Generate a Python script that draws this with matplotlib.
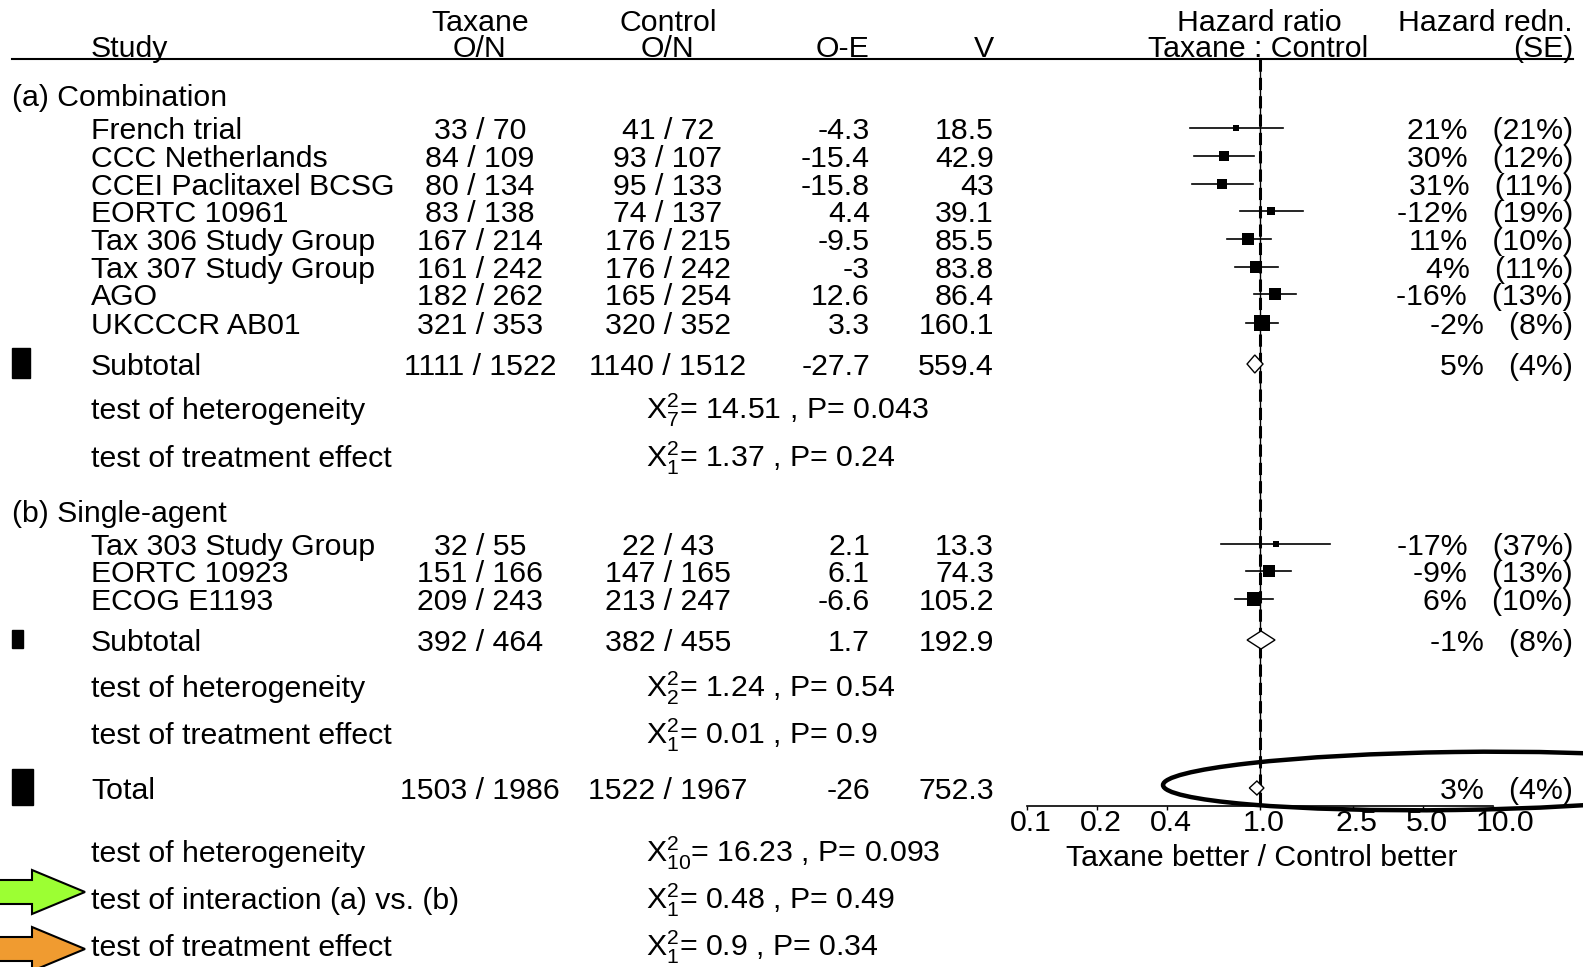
import numpy as np
import matplotlib
matplotlib.use("Agg")
import matplotlib.pyplot as plt
from matplotlib.patches import Polygon, Rectangle, Ellipse
from matplotlib.ticker import NullLocator
from matplotlib.transforms import ScaledTranslation

plt.rcParams["font.family"] = ["Liberation Sans", "DejaVu Sans"]
plt.rcParams["mathtext.fontset"] = "custom"
plt.rcParams["mathtext.rm"] = "Liberation Sans"
plt.rcParams["mathtext.it"] = "Liberation Sans"

# (a) combination trials
study_a = ["French trial", "CCC Netherlands", "CCEI Paclitaxel BCSG", "EORTC 10961",
           "Tax 306 Study Group", "Tax 307 Study Group", "AGO", "UKCCCR AB01"]
tax_obs_a = [33, 84, 80, 83, 167, 161, 182, 321]
tax_n_a = [70, 109, 134, 138, 214, 242, 262, 353]
ctl_obs_a = [41, 93, 95, 74, 176, 176, 165, 320]
ctl_n_a = [72, 107, 133, 137, 215, 242, 254, 352]
oe_a = [-4.3, -15.4, -15.8, 4.4, -9.5, -3, 12.6, 3.3]
v_a = [18.5, 42.9, 43, 39.1, 85.5, 83.8, 86.4, 160.1]
hr_a = [0.79, 0.70, 0.69, 1.12, 0.89, 0.96, 1.16, 1.02]
lo_a = [0.50, 0.52, 0.51, 0.82, 0.72, 0.78, 0.94, 0.87]
hi_a = [1.25, 0.94, 0.93, 1.53, 1.11, 1.20, 1.43, 1.19]
redn_a = [21, 30, 31, -12, 11, 4, -16, -2]
se_a = [21, 12, 11, 19, 10, 11, 13, 8]

# (b) single-agent trials
study_b = ["Tax 303 Study Group", "EORTC 10923", "ECOG E1193"]
tax_obs_b = [32, 151, 209]
tax_n_b = [55, 166, 243]
ctl_obs_b = [22, 147, 213]
ctl_n_b = [43, 165, 247]
oe_b = [2.1, 6.1, -6.6]
v_b = [13.3, 74.3, 105.2]
hr_b = [1.17, 1.09, 0.94]
lo_b = [0.68, 0.87, 0.78]
hi_b = [2.00, 1.36, 1.14]
redn_b = [-17, -9, 6]
se_b = [37, 13, 10]

# subtotal (a), subtotal (b), total
sub_labels = ["Subtotal", "Subtotal", "Total"]
sub_tax_obs = [1111, 392, 1503]
sub_tax_n = [1522, 464, 1986]
sub_ctl_obs = [1140, 382, 1522]
sub_ctl_n = [1512, 455, 1967]
sub_oe = [-27.7, 1.7, -26]
sub_v = [559.4, 192.9, 752.3]
sub_hr = [0.95, 1.01, 0.97]
sub_lo = [0.88, 0.88, 0.90]
sub_hi = [1.03, 1.16, 1.04]
sub_redn = [5, -1, 3]
sub_se = [4, 8, 4]

# chi-square tests
test_a = ["test of heterogeneity", "test of treatment effect"]
chi_a = [14.51, 1.37]
df_a = [7, 1]
p_a = ["0.043", "0.24"]
test_b = ["test of heterogeneity", "test of treatment effect"]
chi_b = [1.24, 0.01]
df_b = [2, 1]
p_b = ["0.54", "0.9"]
test_all = ["test of heterogeneity", "test of interaction (a) vs. (b)", "test of treatment effect"]
chi_all = [16.23, 0.48, 0.9]
df_all = [10, 1, 1]
p_all = ["0.093", "0.49", "0.34"]

ticks = [0.1, 0.2, 0.4, 1.0, 2.5, 5.0, 10.0]
tick_labels = ["0.1", "0.2", "0.4", "1.0", "2.5", "5.0", "10.0"]

# ---- layout (pixels) ----
W, H = 1583, 967
FS = 21.8
rows_a = [128, 156, 184, 211, 239, 267, 294, 323]
rows_b = [544, 571, 599]
rows_sub = [364, 640, 788]
rows_test_a = [408, 456]
rows_test_b = [686, 733]
rows_test_all = [851, 898, 945]
X_STUDY, X_TAX, X_CTL, X_OE, X_V, X_SE, X_CHI = 91, 480, 668, 870, 994, 1573, 646
AXIS_Y, TOP_Y = 806, 59

fig = plt.figure(figsize=(W / 100, H / 100), dpi=100)
ax = fig.add_axes([0, 0, 1, 1])
ax.set_xlim(0, W)
ax.set_ylim(H, 0)
ax.axis("off")


def txt(x, y, s, ha="left"):
    ax.text(x, y + 11, s, ha=ha, va="baseline", fontsize=FS, color="black")


def fnum(x):
    return f"{x:g}"


def table_row(y, label, to, tn, co, cn, oe, v, red=None, se=None):
    txt(X_STUDY, y, label)
    txt(X_TAX, y, f"{to} / {tn}", "center")
    txt(X_CTL, y, f"{co} / {cn}", "center")
    txt(X_OE, y, fnum(oe), "right")
    txt(X_V, y, fnum(v), "right")
    if red is not None:
        txt(X_SE, y, f"{red}%   ({se}%)", "right")


def test_row(y, label, chi, df, p):
    txt(X_STUDY, y, label)
    txt(X_CHI, y, r"$\mathregular{X^{2}_{%d}}$= %s , P= %s" % (df, fnum(chi), p))


# header
txt(X_TAX, 20, "Taxane", "center")
txt(X_TAX, 46, "O/N", "center")
txt(X_CTL, 20, "Control", "center")
txt(X_CTL, 46, "O/N", "center")
txt(X_STUDY, 46, "Study")
txt(843, 46, "O-E", "center")
txt(984, 46, "V", "center")
txt(1259, 20, "Hazard ratio", "center")
txt(1258, 46, "Taxane : Control", "center")
txt(X_SE, 20, "Hazard redn.", "right")
txt(X_SE, 46, "(SE)", "right")
ax.plot([12, 1573], [TOP_Y, TOP_Y], color="black", lw=1.5)

txt(12, 95, "(a) Combination")
for i, y in enumerate(rows_a):
    table_row(y, study_a[i], tax_obs_a[i], tax_n_a[i], ctl_obs_a[i], ctl_n_a[i],
              oe_a[i], v_a[i], redn_a[i], se_a[i])
txt(12, 511, "(b) Single-agent")
for i, y in enumerate(rows_b):
    table_row(y, study_b[i], tax_obs_b[i], tax_n_b[i], ctl_obs_b[i], ctl_n_b[i],
              oe_b[i], v_b[i], redn_b[i], se_b[i])
for i, y in enumerate(rows_sub):
    table_row(y, sub_labels[i], sub_tax_obs[i], sub_tax_n[i], sub_ctl_obs[i], sub_ctl_n[i],
              sub_oe[i], sub_v[i], sub_redn[i], sub_se[i])
    h = 1.3 * np.sqrt(sub_v[i])
    w = 0.78 * np.sqrt(sub_v[i])
    ax.add_patch(Rectangle((12, y - 1 - h / 2), w, h, color="black"))

for i, y in enumerate(rows_test_a):
    test_row(y, test_a[i], chi_a[i], df_a[i], p_a[i])
for i, y in enumerate(rows_test_b):
    test_row(y, test_b[i], chi_b[i], df_b[i], p_b[i])
for i, y in enumerate(rows_test_all):
    test_row(y, test_all[i], chi_all[i], df_all[i], p_all[i])

# arrows pointing at the overall tests
for y, dy, col in [(rows_test_all[1], -6, "#9CFF33"), (rows_test_all[2], 4, "#F09B30")]:
    yc = y + dy
    pts = [(-5, yc - 12), (32, yc - 12), (32, yc - 22), (85, yc), (32, yc + 22),
           (32, yc + 12), (-5, yc + 12)]
    ax.add_patch(Polygon(pts, closed=True, facecolor=col, edgecolor="black", lw=1.5,
                         clip_on=False))

txt(1262, 855, "Taxane better / Control better", "center")

# ---- forest panel ----
fx = fig.add_axes([1027 / W, 0, 466 / W, 1])
fx.set_xscale("log")
fx.set_xlim(0.1, 10)
fx.set_ylim(H, 0)
fx.patch.set_visible(False)
for s in ["top", "left", "right"]:
    fx.spines[s].set_visible(False)
fx.spines["bottom"].set_position(("data", AXIS_Y))
fx.spines["bottom"].set_linewidth(1.2)
fx.set_yticks([])
fx.set_xticks(ticks)
fx.set_xticklabels(tick_labels)
fx.xaxis.set_minor_locator(NullLocator())
fx.tick_params(axis="x", direction="out", length=3, width=1, pad=-1, labelsize=FS)
shift = ScaledTranslation(-17 / 100, 0, fig.dpi_scale_trans)
for lab in fx.get_xticklabels():
    lab.set_horizontalalignment("left")
    lab.set_transform(lab.get_transform() + shift)

fx.vlines(1.0, TOP_Y, AXIS_Y, color="black", lw=1.0)
fx.vlines(1.0, TOP_Y, AXIS_Y, color="black", lw=2.2, linestyles=(0, (4, 2)))

for ys, hr, lo, hi, v in [(rows_a, hr_a, lo_a, hi_a, v_a), (rows_b, hr_b, lo_b, hi_b, v_b)]:
    for i, y in enumerate(ys):
        fx.plot([lo[i], hi[i]], [y, y], color="black", lw=1.2)
        side = 1.1 * np.sqrt(v[i]) + 2
        fx.plot(hr[i], y, marker="s", ms=side * 0.72, color="black", mew=0)

for i, y in enumerate(rows_sub):
    dh = 7 if i == 2 else 9
    fx.add_patch(Polygon([(sub_lo[i], y), (sub_hr[i], y - dh), (sub_hi[i], y),
                          (sub_hr[i], y + dh)], closed=True, facecolor="white",
                         edgecolor="black", lw=1.0, zorder=3))

# highlight around the overall result
ax.add_patch(Ellipse((1455, 781), 584, 58, angle=-0.8, fill=False, lw=3.2,
                     edgecolor="black", clip_on=False, zorder=5))

fig.savefig("out.png", dpi=100)
